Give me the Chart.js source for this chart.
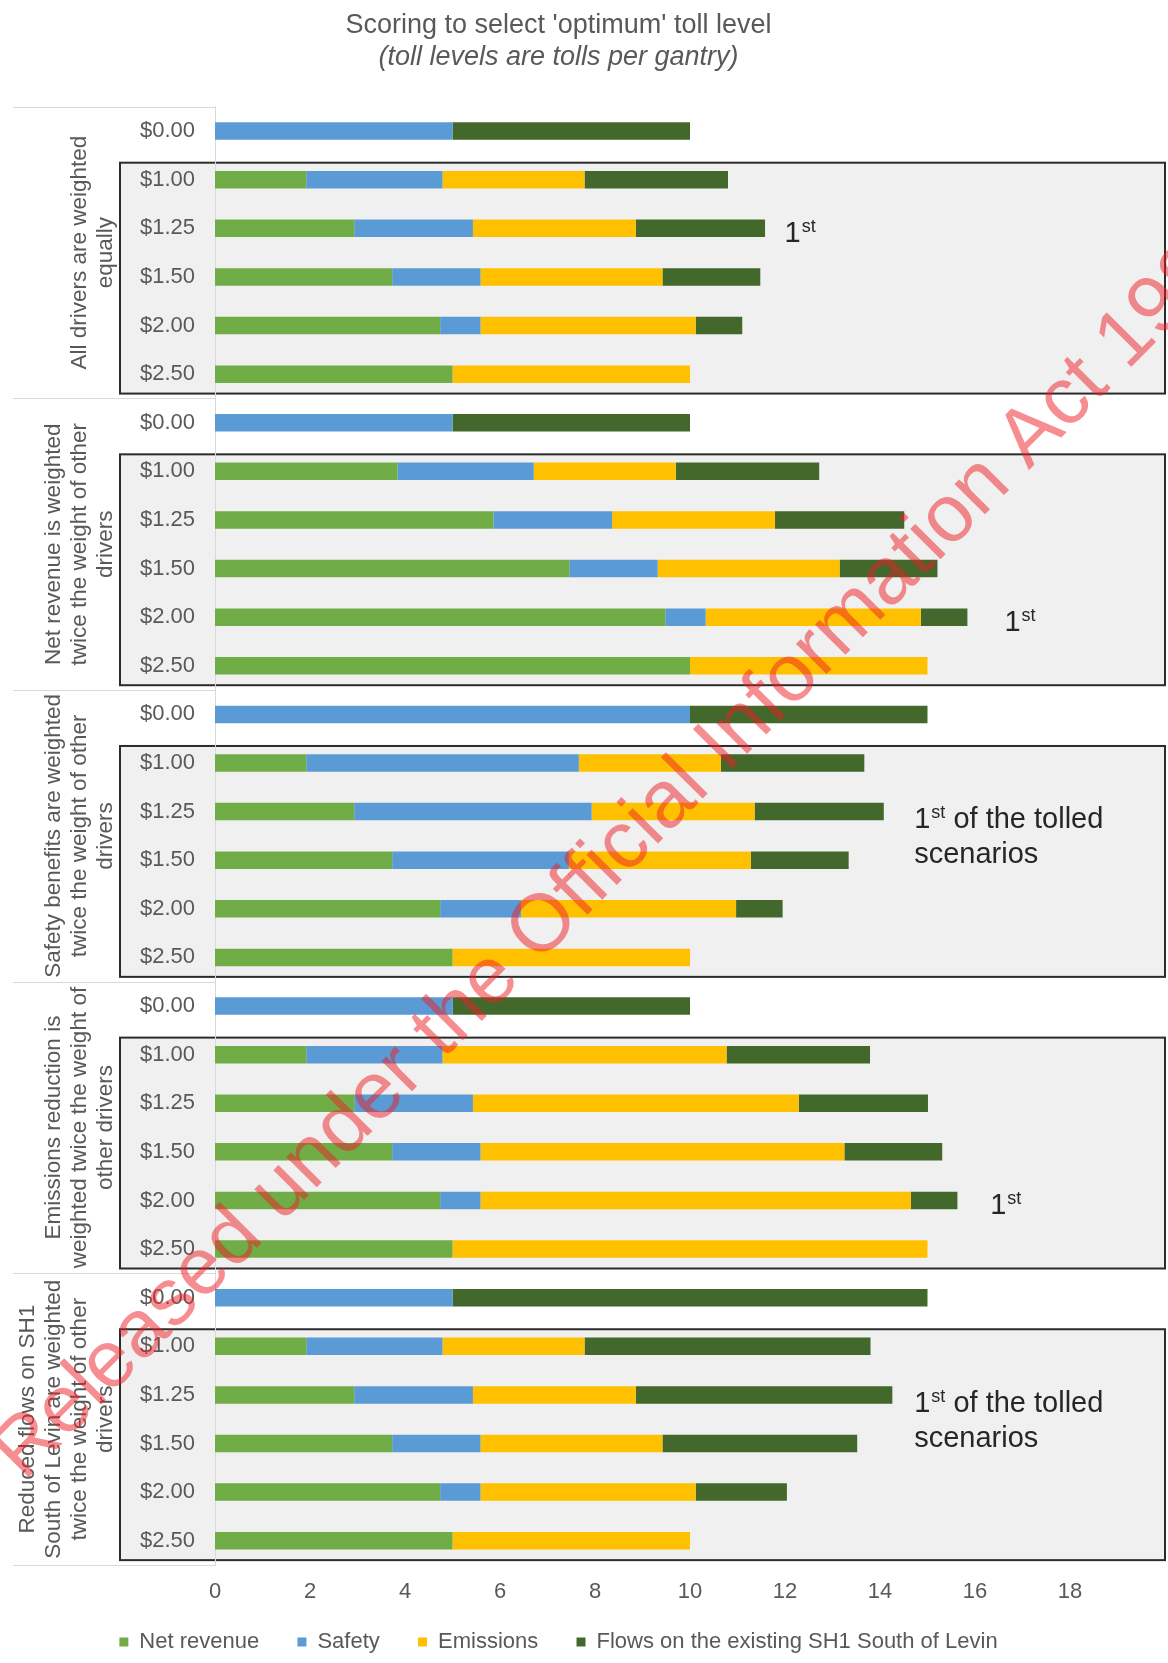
<!DOCTYPE html>
<html>
<head>
<meta charset="utf-8">
<script src="https://cdn.jsdelivr.net/npm/chart.js@4/dist/chart.umd.min.js"></script>
<style>
  html, body { margin: 0; padding: 0; background: #ffffff; }
  #wrap { width: 1168px; height: 1663px; position: relative; }
</style>
</head>
<body>
<div id="wrap"><canvas id="chart"></canvas></div>
<script>
// Toll levels scored within each weighting scenario
const tollLevels = ['$0.00', '$1.00', '$1.25', '$1.50', '$2.00', '$2.50'];

// Weighting scenarios (multi-line group labels on the left)
const weightingScenarios = [
  ['All drivers are weighted', 'equally'],
  ['Net revenue is weighted', 'twice the weight of other', 'drivers'],
  ['Safety benefits are weighted', 'twice the weight of other', 'drivers'],
  ['Emissions reduction is', 'weighted twice the weight of', 'other drivers'],
  ['Reduced flows on SH1', 'South of Levin are weighted', 'twice the weight of other', 'drivers']
];

const seriesNames = ['Net revenue', 'Safety', 'Emissions', 'Flows on the existing SH1 South of Levin'];
const seriesColors = ['#70ad47', '#5b9bd5', '#ffc000', '#43682b'];

// Scores, one row per toll level, scenario by scenario
const netRevenue = [
  0, 1.92, 2.93, 3.73, 4.74, 5.00,
  0, 3.84, 5.86, 7.46, 9.48, 10.00,
  0, 1.92, 2.93, 3.73, 4.74, 5.00,
  0, 1.92, 2.93, 3.73, 4.74, 5.00,
  0, 1.92, 2.93, 3.73, 4.74, 5.00
];
const safety = [
  5.00, 2.87, 2.50, 1.86, 0.85, 0,
  5.00, 2.87, 2.50, 1.86, 0.85, 0,
  10.00, 5.74, 5.00, 3.72, 1.70, 0,
  5.00, 2.87, 2.50, 1.86, 0.85, 0,
  5.00, 2.87, 2.50, 1.86, 0.85, 0
];
const emissions = [
  0, 2.99, 3.43, 3.83, 4.53, 5.00,
  0, 2.99, 3.43, 3.83, 4.53, 5.00,
  0, 2.99, 3.43, 3.83, 4.53, 5.00,
  0, 5.98, 6.86, 7.66, 9.06, 10.00,
  0, 2.99, 3.43, 3.83, 4.53, 5.00
];
const flowsSouthOfLevin = [
  5.00, 3.02, 2.72, 2.06, 0.98, 0,
  5.00, 3.02, 2.72, 2.06, 0.98, 0,
  5.00, 3.02, 2.72, 2.06, 0.98, 0,
  5.00, 3.02, 2.72, 2.06, 0.98, 0,
  10.00, 6.02, 5.40, 4.10, 1.92, 0
];

// Value axis ticks
const xTickMax = 20;
const xTickStep = 2;

// Ranking notes: row (category index), score position, text
const rankNotes = [
  { row: 2,    at: 11.99, rest: '',               second: '' },
  { row: 10,   at: 16.62, rest: '',               second: '' },
  { row: 14.5, at: 14.72, rest: ' of the tolled', second: 'scenarios' },
  { row: 22,   at: 16.32, rest: '',               second: '' },
  { row: 26.5, at: 14.72, rest: ' of the tolled', second: 'scenarios' }
];

const watermarkText = 'Released under the Official Information Act 1982';

const FONT = "'Liberation Sans', Arial, Helvetica, sans-serif";
const GREY_TEXT = '#595959';
const HEADER_SHIFT = -24;

Chart.defaults.font.family = FONT;
Chart.defaults.color = GREY_TEXT;

const categories = weightingScenarios.flatMap(() => tollLevels);
const seriesValues = [netRevenue, safety, emissions, flowsSouthOfLevin];

const decorations = {
  id: 'decorations',
  afterLayout(chart) {
    // centre the title block and legend over the drawing
    chart.boxes.forEach(b => {
      if (b.axis === undefined) { b.left += HEADER_SHIFT; b.right += HEADER_SHIFT; }
    });
  },
  beforeDraw(chart) {
    const { ctx, chartArea, scales: { y } } = chart;
    const band = y.getPixelForValue(1) - y.getPixelForValue(0);
    const per = tollLevels.length;
    ctx.save();
    // shaded frames round the tolled scenarios of each weighting
    weightingScenarios.forEach((_, g) => {
      const top = y.getPixelForValue(g * per + 1) - band * 0.35;
      const bottom = y.getPixelForValue(g * per + per - 1) + band * 0.4;
      const left = chartArea.left - 95;
      const right = chartArea.right;
      ctx.fillStyle = '#f0f0f0';
      ctx.fillRect(left, top, right - left, bottom - top);
      ctx.lineWidth = 2;
      ctx.strokeStyle = '#2b2b2b';
      ctx.strokeRect(left, top, right - left, bottom - top);
    });
    ctx.restore();
  },
  afterDraw(chart) {
    const { ctx, chartArea, scales: { x, y } } = chart;
    const band = y.getPixelForValue(1) - y.getPixelForValue(0);
    const per = tollLevels.length;
    ctx.save();

    // separators between scenario groups on the category axis
    ctx.strokeStyle = '#d9d9d9';
    ctx.lineWidth = 1;
    for (let g = 0; g <= weightingScenarios.length; g++) {
      const yy = Math.round(y.getPixelForValue(g * per) - band / 2) + 0.5;
      ctx.beginPath();
      ctx.moveTo(13, yy);
      ctx.lineTo(chartArea.left, yy);
      ctx.stroke();
    }

    // rotated scenario names
    ctx.fillStyle = GREY_TEXT;
    ctx.font = '22.5px ' + FONT;
    ctx.textAlign = 'center';
    ctx.textBaseline = 'middle';
    weightingScenarios.forEach((lines, g) => {
      const cy = (y.getPixelForValue(g * per) + y.getPixelForValue(g * per + per - 1)) / 2;
      const n = lines.length;
      lines.forEach((line, i) => {
        const cx = chartArea.left - 109 - (n - 1 - i) * 26;
        ctx.save();
        ctx.translate(cx, cy);
        ctx.rotate(-Math.PI / 2);
        ctx.fillText(line, 0, 0);
        ctx.restore();
      });
    });

    // ranking notes
    ctx.fillStyle = '#262626';
    ctx.textAlign = 'left';
    ctx.textBaseline = 'alphabetic';
    rankNotes.forEach(note => {
      const px = x.getPixelForValue(note.at);
      const cy = y.getPixelForValue(note.row);
      const lineGap = 35;
      const base = note.second ? cy - lineGap / 2 + 10 : cy + 14;
      ctx.font = '29px ' + FONT;
      ctx.fillText('1', px, base);
      let cur = px + ctx.measureText('1').width + 1;
      ctx.font = '18px ' + FONT;
      ctx.fillText('st', cur, base - 10);
      cur += ctx.measureText('st').width;
      if (note.rest) {
        ctx.font = '29px ' + FONT;
        ctx.fillText(note.rest, cur, base);
      }
      if (note.second) {
        ctx.font = '29px ' + FONT;
        ctx.fillText(note.second, px, base + lineGap);
      }
    });

    // release stamp across the page
    ctx.translate(24, 1482);
    ctx.rotate(-45.2 * Math.PI / 180);
    ctx.font = '81px ' + FONT;
    ctx.fillStyle = 'rgba(238, 30, 36, 0.5)';
    ctx.fillText(watermarkText, 0, 0);

    ctx.restore();
  }
};

new Chart(document.getElementById('chart'), {
  type: 'bar',
  data: {
    labels: categories,
    datasets: seriesNames.map((name, i) => ({
      // trailing gap keeps the legend entries spread apart
      label: i < seriesNames.length - 1 ? name + '  ' : name,
      data: seriesValues[i],
      backgroundColor: seriesColors[i],
      borderWidth: 0,
      barPercentage: 0.36,
      categoryPercentage: 1
    }))
  },
  options: {
    indexAxis: 'y',
    responsive: true,
    maintainAspectRatio: false,
    animation: false,
    layout: { padding: { left: 0, right: 3, top: 0, bottom: 0 } },
    scales: {
      x: {
        stacked: true,
        min: 0,
        max: xTickMax,
        grid: { display: false, drawTicks: false },
        border: { display: false },
        ticks: {
          stepSize: xTickStep,
          padding: 14,
          maxRotation: 0,
          color: GREY_TEXT,
          font: { size: 22 },
          callback: v => (v >= xTickMax ? '' : v)
        },
        afterFit(scale) {
          scale.height = 40;
          scale.paddingLeft = 0;
          scale.paddingRight = 0;
        }
      },
      y: {
        stacked: true,
        grid: { display: false, drawTicks: false },
        border: { display: true, color: '#d9d9d9', width: 1 },
        ticks: { padding: 20, autoSkip: false, color: GREY_TEXT, font: { size: 22 } },
        afterFit(scale) { scale.width = 215; }
      }
    },
    plugins: {
      title: {
        display: true,
        text: "Scoring to select 'optimum' toll level",
        color: GREY_TEXT,
        font: { size: 27, weight: 'normal' },
        padding: { top: 9, bottom: 0 }
      },
      subtitle: {
        display: true,
        text: '(toll levels are tolls per gantry)',
        color: GREY_TEXT,
        font: { size: 27, weight: 'normal', style: 'italic' },
        padding: { top: 0, bottom: 33 }
      },
      legend: {
        position: 'bottom',
        labels: { boxWidth: 9, boxHeight: 9, padding: 26, color: GREY_TEXT, font: { size: 22 } }
      },
      tooltip: { enabled: false }
    }
  },
  plugins: [decorations]
});
</script>
</body>
</html>
